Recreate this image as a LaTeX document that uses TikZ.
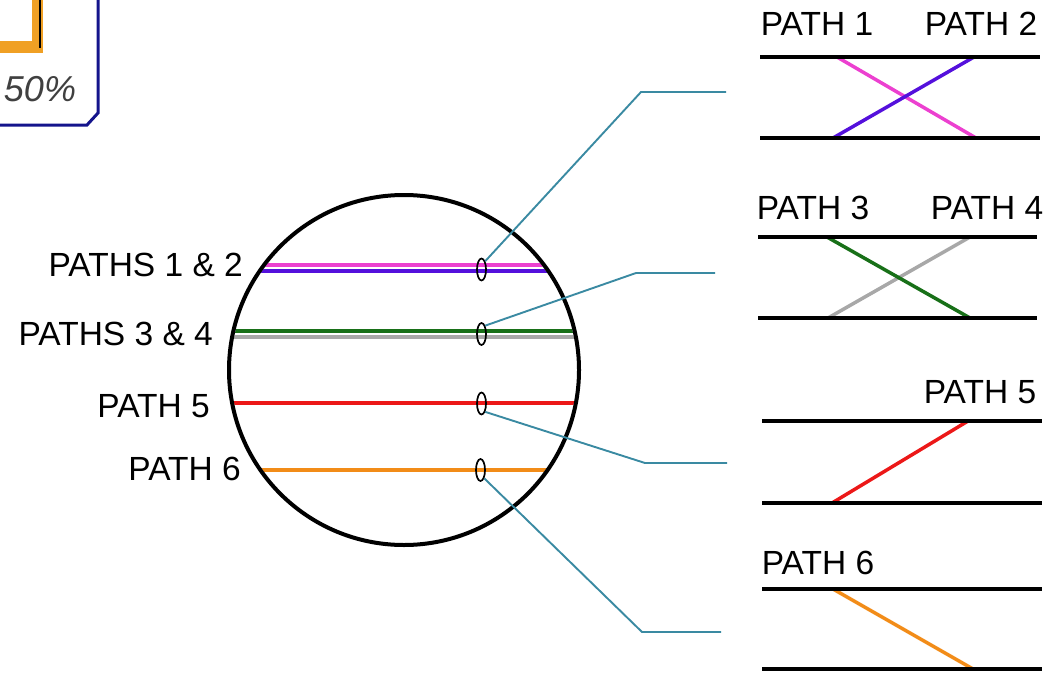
\documentclass[tikz,border=0pt]{standalone}
\usepackage{fontspec}
\setmainfont{Liberation Sans}
\usetikzlibrary{shapes.geometric}

\definecolor{pathA}{RGB}{236,64,208}
\definecolor{pathB}{RGB}{84,16,220}
\definecolor{pathC}{RGB}{24,112,24}
\definecolor{pathD}{RGB}{168,168,168}
\definecolor{pathE}{RGB}{236,24,24}
\definecolor{pathF}{RGB}{242,140,24}
\definecolor{leadcol}{RGB}{58,138,162}
\definecolor{framecol}{RGB}{20,20,140}
\definecolor{barcol}{RGB}{240,160,36}

\begin{document}
\begin{tikzpicture}[x=1pt,y=-1pt,
  lbl/.style={font=\fontsize{33.5}{38}\selectfont, inner sep=0pt, text depth=0pt},
  rail/.style={line width=4pt, line cap=butt},
  trace/.style={line width=3.5pt},
  tap/.style={ellipse, draw, line width=1.7pt, minimum width=9pt, minimum height=22pt, inner sep=0pt},
  lead/.style={draw=leadcol, line width=1.9pt}
]
\useasboundingbox (0,0) rectangle (1048,674);

% gauge widget in the corner
\draw[framecol, line width=3pt, fill=white]
  (-10,-10) -- (98,-10) -- (98,113) -- (87,125) -- (-10,125) -- cycle;
\fill[barcol] (-10,-10) rectangle (43,53);
\fill[white] (-10,-10) rectangle (32,41);
\draw[black, line width=1.4pt] (40,-2) -- (40,48);
\node[inner sep=0pt, font=\fontsize{36}{40}\selectfont\itshape, text=black!75] (pct) at (40,89) {50\%};

% cross-section with the six paths
\begin{scope}
  \clip (404,370) circle (173);
  \draw[trace, pathA] (200,265) -- (610,265);
  \draw[trace, pathB] (200,271) -- (610,271);
  \draw[trace, pathC] (200,331) -- (610,331);
  \draw[trace, pathD] (200,337) -- (610,337);
  \draw[trace, pathE] (200,403) -- (610,403);
  \draw[trace, pathF] (200,470) -- (610,470);
\end{scope}
\node[circle, draw, line width=4pt, minimum size=350pt, inner sep=0pt] (disk) at (404,370) {};

% left labels
\node[lbl, anchor=east] (l12) at (243,265) {PATHS 1 \& 2};
\node[lbl, anchor=east] (l34) at (213,334) {PATHS 3 \& 4};
\node[lbl, anchor=east] (l5)  at (210,406) {PATH 5};
\node[lbl, anchor=east] (l6)  at (241,469) {PATH 6};

% measurement taps
\node[tap] (e1) at (481.5,269.5) {};
\node[tap] (e2) at (481.5,334) {};
\node[tap] (e3) at (481.5,403.5) {};
\node[tap] (e4) at (480.5,470) {};

% leader lines to the detail panels
\coordinate (k1) at (641,92);  \coordinate (k1e) at (726,92);
\coordinate (k2) at (636,273); \coordinate (k2e) at (715,273);
\coordinate (k3) at (645,463); \coordinate (k3e) at (727,463);
\coordinate (k4) at (642,632); \coordinate (k4e) at (721,632);
\draw[lead] (e1.north east) -- (k1) -- (k1e);
\draw[lead] (e2.north east) -- (k2) -- (k2e);
\draw[lead] (e3.south east) -- (k3) -- (k3e);
\draw[lead] (e4.south east) -- (k4) -- (k4e);

% panel: paths 1 and 2
\draw[trace, pathA] (837,57) -- (976,138);
\draw[trace, pathB] (974,57) -- (833,138);
\draw[rail] (760,57) -- (1040,57);
\draw[rail] (760,138) -- (1040,138);
\node[lbl] (p1) at (817,24) {PATH 1};
\node[lbl] (p2) at (981,24) {PATH 2};

% panel: paths 3 and 4
\draw[trace, pathD] (970,237) -- (828,318);
\draw[trace, pathC] (827,237) -- (970,318);
\draw[rail] (758,237) -- (1037,237);
\draw[rail] (758,318) -- (1037,318);
\node[lbl] (p3) at (813,208) {PATH 3};
\node[lbl] (p4) at (987,208) {PATH 4};

% panel: path 5
\draw[trace, pathE] (968,421) -- (832,503);
\draw[rail] (762,421) -- (1042,421);
\draw[rail] (762,503) -- (1042,503);
\node[lbl] (p5) at (980,392) {PATH 5};

% panel: path 6
\draw[trace, pathF] (833,589) -- (973,669);
\draw[rail] (762,589) -- (1042,589);
\draw[rail] (762,669) -- (1042,669);
\node[lbl] (p6) at (818,563) {PATH 6};
\end{tikzpicture}
\end{document}
